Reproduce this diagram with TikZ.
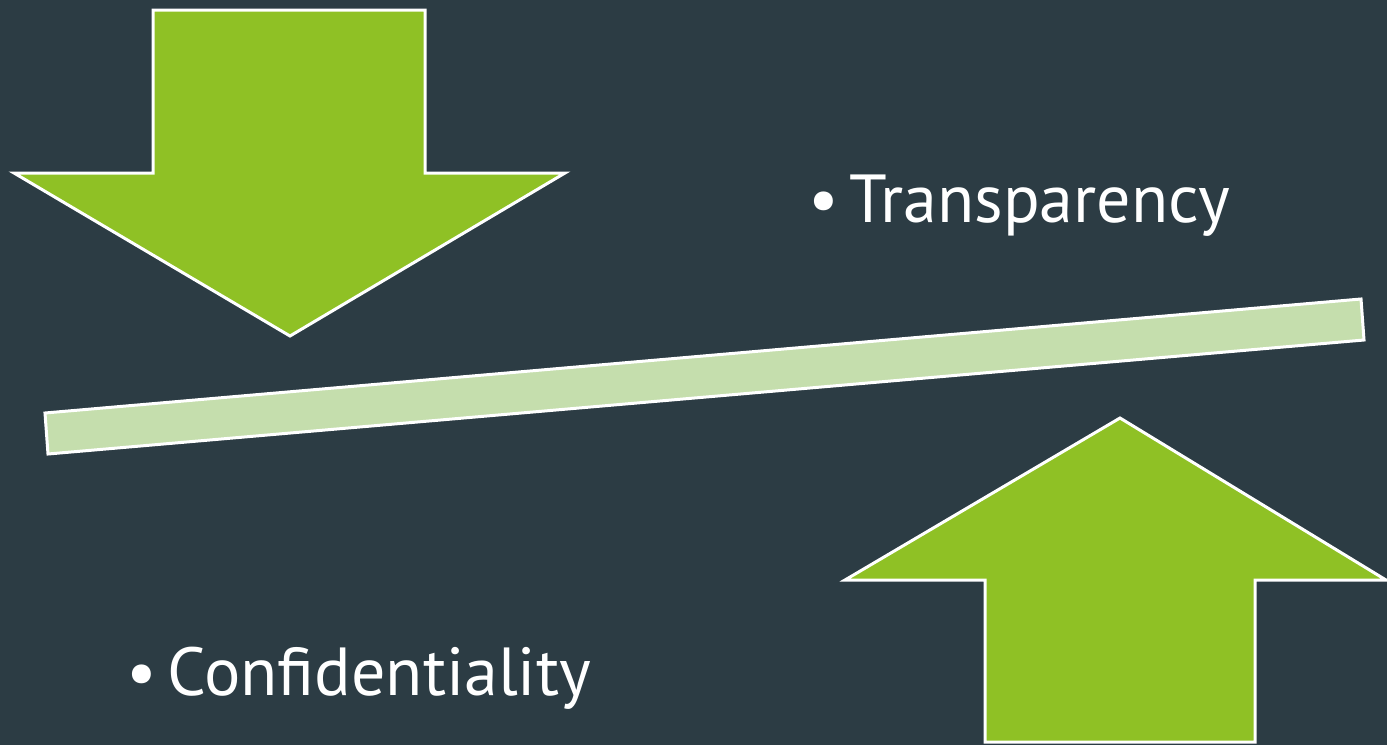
\documentclass[tikz,border=0pt]{standalone}
\usepackage{fontspec}
\setmainfont{PT Sans}
\definecolor{bg}{HTML}{2C3C44}
\definecolor{arrowgreen}{HTML}{8FC125}
\definecolor{barg}{HTML}{C5DEAD}
\begin{document}
\begin{tikzpicture}[x=1pt,y=-1pt,
  outlined/.style={draw=white,line width=3pt,line join=miter},
  lbl/.style={text=white,font=\fontsize{68}{82}\selectfont,inner sep=0pt,anchor=base west}]
\fill[bg] (0,0) rectangle (1387,745);
\useasboundingbox (0,0) rectangle (1387,745);
% down arrow
\draw[outlined,fill=arrowgreen] (153,10) -- (425,10) -- (425,173) -- (565,173) -- (290,336) -- (14,173) -- (153,173) -- cycle;
% bar
\draw[outlined,fill=barg] (45,413) -- (1361,299) -- (1364,340) -- (48,454) -- cycle;
% up arrow
\draw[outlined,fill=arrowgreen] (1120,418) -- (1386,580) -- (1255,580) -- (1255,742) -- (985,742) -- (985,580) -- (845,580) -- cycle;
% labels
\node[lbl] (t) at (808,222) {•\hspace{0.16em}Transparency};
\node[lbl] (c) at (126,695) {•\hspace{0.16em}Confidentiality};
\end{tikzpicture}
\end{document}
